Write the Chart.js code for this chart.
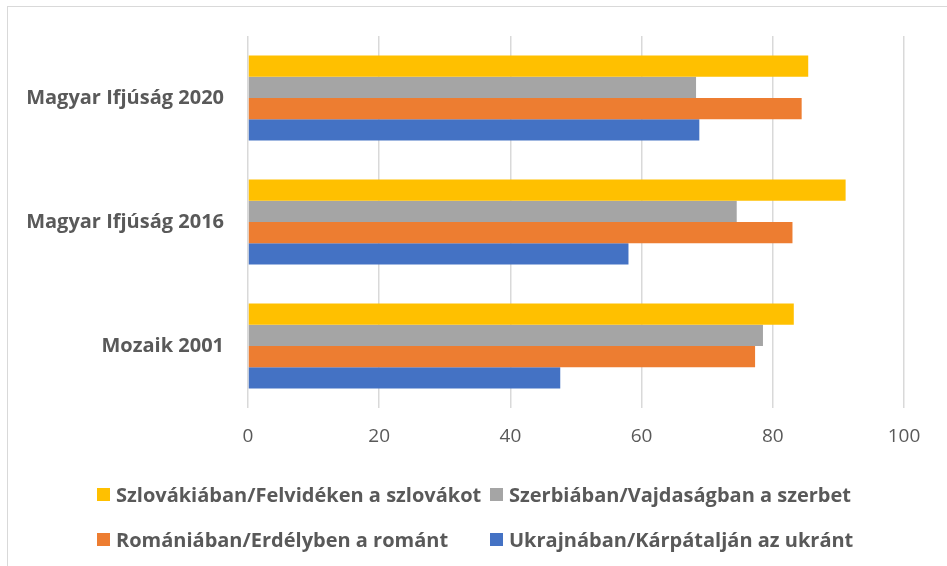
<!DOCTYPE html>
<html>
<head>
<meta charset="utf-8">
<script src="https://cdn.jsdelivr.net/npm/chart.js@4/dist/chart.umd.min.js"></script>
<style>
  html, body { margin: 0; padding: 0; background: #fff; }
  #wrap { position: relative; width: 947px; height: 566px; overflow: hidden; font-family: "Open Sans", sans-serif; }
  #frame { position: absolute; left: 7px; top: 6px; width: 960px; height: 600px; border: 1.5px solid #d9d9d9; box-sizing: border-box; }
  #chart { position: absolute; left: 0; top: 0; }
  #legend { position: absolute; left: 97px; top: 480px; display: grid; grid-template-columns: 393px 400px; row-gap: 17px; }
  .item { display: flex; align-items: center; color: #595959; font-weight: bold; font-size: 20px; white-space: nowrap; height: 28px; }
  .box { width: 13px; height: 13px; margin-right: 6px; flex: none; }
</style>
</head>
<body>
<div id="wrap">
  <div id="frame"></div>
  <canvas id="chart" width="947" height="566"></canvas>
  <div id="legend"></div>
</div>
<script>
const categories = ["Magyar Ifjúság 2020", "Magyar Ifjúság 2016", "Mozaik 2001"];
const seriesNames = [
    "Szlovákiában/Felvidéken a szlovákot",
    "Szerbiában/Vajdaságban a szerbet",
    "Romániában/Erdélyben a románt",
    "Ukrajnában/Kárpátalján az ukránt"
];
const slovak = [85.4, 91.1, 83.2];
const serb = [68.3, 74.5, 78.5];
const roman = [84.4, 83.0, 77.3];
const ukran = [68.8, 58.0, 47.6];
const colors = ["#FFC000", "#A5A5A5", "#ED7D31", "#4472C4"];
const xTicks = [0, 20, 40, 60, 80, 100];

const seriesValues = [slovak, serb, roman, ukran];
const font = "'Open Sans', sans-serif";

const chart = new Chart(document.getElementById("chart"), {
    type: "bar",
    data: {
        labels: categories,
        datasets: seriesNames.map((name, i) => ({
            label: name,
            data: seriesValues[i],
            backgroundColor: colors[i],
            borderWidth: 0,
            categoryPercentage: 0.686,
            barPercentage: 1.0
        }))
    },
    options: {
        indexAxis: "y",
        responsive: false,
        animation: false,
        layout: { padding: { top: 35, right: 43, bottom: 108, left: 0 } },
        plugins: { legend: { display: false }, tooltip: { enabled: false } },
        scales: {
            x: {
                min: 0,
                max: 100,
                afterBuildTicks: (axis) => { axis.ticks = xTicks.map(v => ({ value: v })); },
                afterFit: (axis) => { axis.height = 50; },
                grid: { color: "#d9d9d9", lineWidth: 1.5, drawTicks: false },
                border: { display: false },
                ticks: { color: "#595959", font: { family: font, size: 19 }, padding: 17 }
            },
            y: {
                afterFit: (axis) => { axis.width = 248; },
                grid: { display: false, drawTicks: false },
                border: { display: false },
                ticks: { color: "#595959", font: { family: font, size: 20, weight: "bold" }, padding: 24 }
            }
        }
    }
});

// legend drawn as html, two columns like the original
const legend = document.getElementById("legend");
chart.data.datasets.forEach((ds) => {
    const item = document.createElement("div");
    item.className = "item";
    item.innerHTML = `<span class="box" style="background:${ds.backgroundColor}"></span><span>${ds.label}</span>`;
    legend.appendChild(item);
});
</script>
</body>
</html>
